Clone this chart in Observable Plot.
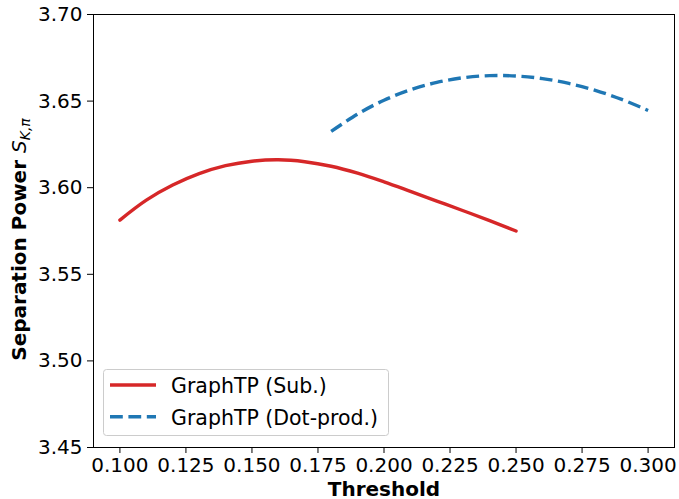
<!DOCTYPE html>
<html>
<head>
<meta charset="utf-8">
<script src="https://cdn.jsdelivr.net/npm/d3@7"></script>
<script src="https://cdn.jsdelivr.net/npm/@observablehq/plot@0.6"></script>
<style>
  html, body { margin: 0; padding: 0; background: #fff; }
  #chart svg { display: block; overflow: visible; }
</style>
</head>
<body>
<div id="chart"></div>
<script>
// ---- data ----
const subX = [0.10, 0.11, 0.12, 0.13, 0.14, 0.15, 0.16, 0.17, 0.18, 0.19, 0.20, 0.21, 0.22, 0.23, 0.24, 0.25];
const subY = [3.5813, 3.5928, 3.6015, 3.6081, 3.6127, 3.6153, 3.6161, 3.6150, 3.6124, 3.6084, 3.6034, 3.5979, 3.5923, 3.5867, 3.5810, 3.5750];

const dotX = [0.18, 0.19, 0.20, 0.21, 0.22, 0.23, 0.24, 0.25, 0.26, 0.27, 0.28, 0.29, 0.30];
const dotY = [3.6325, 3.6425, 3.6505, 3.6565, 3.6608, 3.6635, 3.6647, 3.6645, 3.6630, 3.6602, 3.6562, 3.6510, 3.6446];

const xTicks = [0.100, 0.125, 0.150, 0.175, 0.200, 0.225, 0.250, 0.275, 0.300];
const yTicks = [3.45, 3.50, 3.55, 3.60, 3.65, 3.70];

const seriesNames = ["GraphTP (Sub.)", "GraphTP (Dot-prod.)"];
const seriesColors = ["#d62728", "#1f77b4"];
const xLabel = "Threshold";

const subData = subX.map((x, i) => ({x, y: subY[i]}));
const dotData = dotX.map((x, i) => ({x, y: dotY[i]}));

const W = 679, H = 499;
const mL = 93, mR = 5, mT = 14, mB = 52;

const plot = Plot.plot({
  width: W,
  height: H,
  marginLeft: mL,
  marginRight: mR,
  marginTop: mT,
  marginBottom: mB,
  style: {fontFamily: "DejaVu Sans", fontSize: "20px", color: "#000", background: "#fff", overflow: "visible"},
  x: {domain: [0.09, 0.31]},
  y: {domain: [3.45, 3.70]},
  marks: [
    Plot.axisX({ticks: xTicks, tickFormat: d3.format(".3f"), tickSize: 6, tickPadding: 4, label: null, fontSize: 20}),
    Plot.axisY({ticks: yTicks, tickFormat: d3.format(".2f"), tickSize: 6, tickPadding: 5, label: null, fontSize: 20}),
    Plot.line(subData, {x: "x", y: "y", stroke: seriesColors[0], strokeWidth: 3.4, curve: "catmull-rom"}),
    Plot.line(dotData, {x: "x", y: "y", stroke: seriesColors[1], strokeWidth: 3.4, strokeDasharray: "12.8,5.6", curve: "catmull-rom", strokeLinecap: "butt"}),
    Plot.frame({stroke: "#000", strokeWidth: 1}),
    Plot.text([xLabel], {frameAnchor: "bottom", dy: 48, lineAnchor: "bottom", fontWeight: "bold", fontSize: 20, text: d => d})
  ]
});

document.getElementById("chart").appendChild(plot);

const svg = d3.select(plot);

// y-axis label with math subscript
const yl = svg.append("text")
  .attr("transform", `translate(26,${(mT + H - mB) / 2 + 9}) rotate(-90)`)
  .attr("text-anchor", "middle")
  .attr("font-size", 20)
  .attr("fill", "#000");
yl.append("tspan").attr("font-weight", "bold").text("Separation Power ");
yl.append("tspan").attr("font-style", "italic").text("S");
yl.append("tspan").attr("font-style", "italic").attr("font-size", 14).attr("dy", 4).text("K,π");

// legend
const lg = svg.append("g").attr("text-anchor", "start");
lg.append("rect")
  .attr("x", 103.5).attr("y", 369.5).attr("width", 285).attr("height", 66)
  .attr("rx", 3).attr("fill", "#fff").attr("fill-opacity", 0.8)
  .attr("stroke", "#ccc").attr("stroke-width", 1);
const rows = [385, 416.7];
seriesNames.forEach((name, i) => {
  lg.append("line")
    .attr("x1", 110).attr("x2", 156)
    .attr("y1", rows[i]).attr("y2", rows[i])
    .attr("stroke", seriesColors[i]).attr("stroke-width", 3.4)
    .attr("stroke-dasharray", i === 1 ? "12.8,5.6" : null);
  lg.append("text")
    .attr("x", 171).attr("y", rows[i] + 7.8)
    .attr("text-anchor", "start")
    .attr("font-size", 20.5).attr("fill", "#000")
    .text(name);
});
</script>
</body>
</html>
